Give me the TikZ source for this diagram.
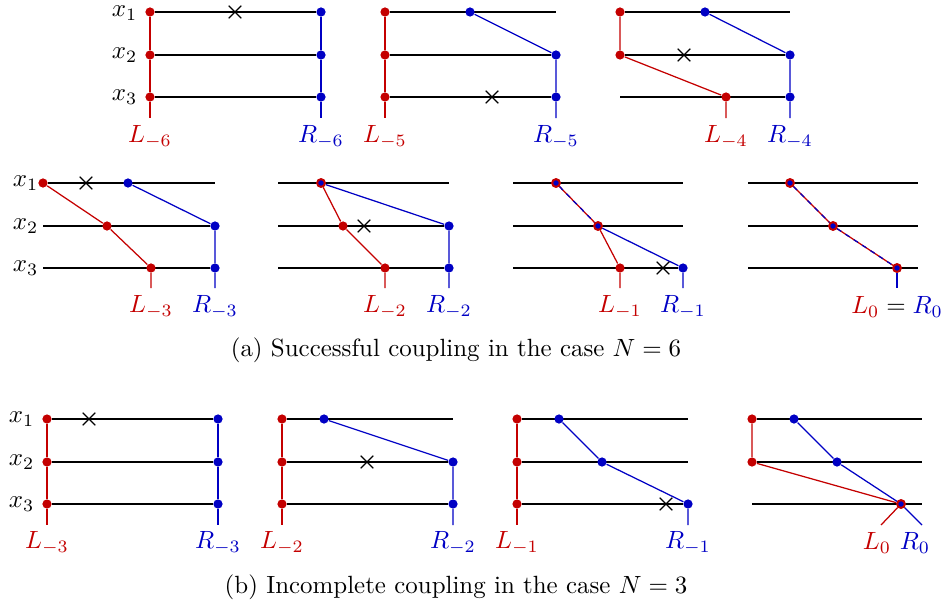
\documentclass[tikz,border=0pt]{standalone}
\usepackage{amsmath,amssymb}
\usepackage{xcolor}
\usepackage{tikz}
\usetikzlibrary{shapes.misc,backgrounds}
\definecolor{lred}{RGB}{196,0,0}
\definecolor{lblue}{RGB}{0,0,196}
\tikzset{
  lvl/.style={line width=0.5pt},
  dr/.style={circle,fill=lred,inner sep=0pt,minimum size=1.3mm},
  db/.style={circle,fill=lblue,inner sep=0pt,minimum size=1.3mm},
  dm/.style={circle,draw=lred,fill=lblue,line width=0.8pt,inner sep=0pt,minimum size=1.1mm},
  kill/.style={cross out,draw,line width=0.5pt,minimum size=1.6mm,inner sep=0pt},
  xl/.style={anchor=east,inner sep=0.5pt},
  pl/.style={lred,line width=0.5pt},
  pr/.style={lblue,line width=0.5pt},
  pm/.style={lblue,line width=0.5pt,dash pattern=on 2pt off 2pt},
  tl/.style={text=lred}, tr/.style={text=lblue},
}
\begin{document}
\begin{tikzpicture}[x=0.0141cm,y=-0.0141cm]
  \useasboundingbox (0,0) rectangle (942,605);

  \node[xl] (A-x1) at (139,13){$x_1$};
  \node[xl] (A-x2) at (139,55){$x_2$};
  \node[xl] (A-x3) at (139,97){$x_3$};
  \node[dr] (A-l1) at (150,12){};
  \node[dr] (A-l2) at (150,55){};
  \node[dr] (A-l3) at (150,97){};
  \node[db] (A-r1) at (321,12){};
  \node[db] (A-r2) at (321,55){};
  \node[db] (A-r3) at (321,97){};
  \coordinate (A-ls) at (150,118);
  \coordinate (A-rs) at (321,118);
  \node[kill] (A-k) at (235,12){};
  \node[tl] (A-lt) at (150,137){$L_{-6}$};
  \node[tr] (A-rt) at (321,137){$R_{-6}$};

  \node[dr] (B-l1) at (385,12){};
  \node[dr] (B-l2) at (385,55){};
  \node[dr] (B-l3) at (385,97){};
  \node[db] (B-b1) at (470,12){};
  \coordinate (B-e1) at (556,12);
  \node[db] (B-r2) at (556,55){};
  \node[db] (B-r3) at (556,97){};
  \coordinate (B-ls) at (385,118);
  \coordinate (B-rs) at (556,118);
  \node[kill] (B-k) at (492,97){};
  \node[tl] (B-lt) at (385,137){$L_{-5}$};
  \node[tr] (B-rt) at (556,137){$R_{-5}$};

  \node[dr] (C-l1) at (620,12){};
  \node[dr] (C-l2) at (620,55){};
  \coordinate (C-s3) at (620,97);
  \node[dr] (C-l3) at (726,97){};
  \node[db] (C-b1) at (705,12){};
  \coordinate (C-e1) at (790,12);
  \node[db] (C-r2) at (790,55){};
  \node[db] (C-r3) at (790,97){};
  \coordinate (C-ls) at (726,118);
  \coordinate (C-rs) at (790,118);
  \node[kill] (C-k) at (684,55){};
  \node[tl] (C-lt) at (726,137){$L_{-4}$};
  \node[tr] (C-rt) at (790,137){$R_{-4}$};

  \node[xl] (D-x1) at (40,183){$x_1$};
  \node[xl] (D-x2) at (40,226){$x_2$};
  \node[xl] (D-x3) at (40,268){$x_3$};
  \node[dr] (D-l1) at (43,183){};
  \node[db] (D-b1) at (128,183){};
  \coordinate (D-e1) at (215,183);
  \coordinate (D-s2) at (43,226);
  \node[dr] (D-l2) at (107,226){};
  \node[db] (D-r2) at (215,226){};
  \coordinate (D-s3) at (43,268);
  \node[dr] (D-l3) at (151,268){};
  \node[db] (D-r3) at (215,268){};
  \coordinate (D-ls) at (151,288);
  \coordinate (D-rs) at (215,288);
  \node[kill] (D-k) at (86,183){};
  \node[tl] (D-lt) at (151,307){$L_{-3}$};
  \node[tr] (D-rt) at (215,307){$R_{-3}$};

  \coordinate (E-s1) at (278,183);
  \node[dm] (E-m1) at (321,183){};
  \coordinate (E-e1) at (449,183);
  \coordinate (E-s2) at (278,226);
  \node[dr] (E-l2) at (343,226){};
  \node[db] (E-r2) at (449,226){};
  \coordinate (E-s3) at (278,268);
  \node[dr] (E-l3) at (385,268){};
  \node[db] (E-r3) at (449,268){};
  \coordinate (E-ls) at (385,288);
  \coordinate (E-rs) at (449,288);
  \node[kill] (E-k) at (364,226){};
  \node[tl] (E-lt) at (385,307){$L_{-2}$};
  \node[tr] (E-rt) at (449,307){$R_{-2}$};

  \coordinate (F-s1) at (513,183);
  \node[dm] (F-m1) at (556,183){};
  \coordinate (F-e1) at (683,183);
  \coordinate (F-s2) at (513,226);
  \node[dm] (F-m2) at (598,226){};
  \coordinate (F-e2) at (683,226);
  \coordinate (F-s3) at (513,268);
  \node[dr] (F-l3) at (620,268){};
  \node[db] (F-r3) at (683,268){};
  \coordinate (F-ls) at (620,288);
  \coordinate (F-rs) at (683,288);
  \node[kill] (F-k) at (663,268){};
  \node[tl] (F-lt) at (620,307){$L_{-1}$};
  \node[tr] (F-rt) at (683,307){$R_{-1}$};

  \coordinate (G-s1) at (748,183);
  \node[dm] (G-m1) at (790,183){};
  \coordinate (G-e1) at (918,183);
  \coordinate (G-s2) at (748,226);
  \node[dm] (G-m2) at (833,226){};
  \coordinate (G-e2) at (918,226);
  \coordinate (G-s3) at (748,268);
  \node[dm] (G-m3) at (897,268){};
  \coordinate (G-e3) at (918,268);
  \coordinate (G-st) at (897,288);
  \node (G-t) at (897,307){${\color{lred}L_0}={\color{lblue}R_0}$};

  \node (capa) at (456,350){(a) Successful coupling in the case $N=6$};

  \node[xl] (H-x1) at (36,419){$x_1$};
  \node[xl] (H-x2) at (36,462){$x_2$};
  \node[xl] (H-x3) at (36,504){$x_3$};
  \node[dr] (H-l1) at (47,419){};
  \node[dr] (H-l2) at (47,462){};
  \node[dr] (H-l3) at (47,504){};
  \node[db] (H-r1) at (218,419){};
  \node[db] (H-r2) at (218,462){};
  \node[db] (H-r3) at (218,504){};
  \coordinate (H-ls) at (47,525);
  \coordinate (H-rs) at (218,525);
  \node[kill] (H-k) at (89,419){};
  \node[tl] (H-lt) at (47,543){$L_{-3}$};
  \node[tr] (H-rt) at (218,543){$R_{-3}$};

  \node[dr] (I-l1) at (282,419){};
  \node[dr] (I-l2) at (282,462){};
  \node[dr] (I-l3) at (282,504){};
  \node[db] (I-b1) at (324,419){};
  \coordinate (I-e1) at (453,419);
  \node[db] (I-r2) at (453,462){};
  \node[db] (I-r3) at (453,504){};
  \coordinate (I-ls) at (282,525);
  \coordinate (I-rs) at (453,525);
  \node[kill] (I-k) at (367,462){};
  \node[tl] (I-lt) at (282,543){$L_{-2}$};
  \node[tr] (I-rt) at (453,543){$R_{-2}$};

  \node[dr] (J-l1) at (517,419){};
  \node[dr] (J-l2) at (517,462){};
  \node[dr] (J-l3) at (517,504){};
  \node[db] (J-b1) at (559,419){};
  \coordinate (J-e1) at (688,419);
  \node[db] (J-b2) at (602,462){};
  \coordinate (J-e2) at (688,462);
  \node[db] (J-r3) at (688,504){};
  \coordinate (J-ls) at (517,525);
  \coordinate (J-rs) at (688,525);
  \node[kill] (J-k) at (666,504){};
  \node[tl] (J-lt) at (517,543){$L_{-1}$};
  \node[tr] (J-rt) at (688,543){$R_{-1}$};

  \node[dr] (K-l1) at (752,419){};
  \node[dr] (K-l2) at (752,462){};
  \coordinate (K-s3) at (752,504);
  \node[db] (K-b1) at (794,419){};
  \node[db] (K-b2) at (837,462){};
  \node[dm] (K-m3) at (901,504){};
  \coordinate (K-e1) at (922,419);
  \coordinate (K-e2) at (922,462);
  \coordinate (K-e3) at (922,504);
  \coordinate (K-ls) at (881,525);
  \coordinate (K-rs) at (922,525);
  \node[tl] (K-lt) at (877,543){$L_0$};
  \node[tr] (K-rt) at (915,543){$R_0$};

  \node (capb) at (456,587){(b) Incomplete coupling in the case $N=3$};

  \begin{scope}[on background layer]
    \draw[lvl] (A-l1)--(A-r1) (A-l2)--(A-r2) (A-l3)--(A-r3);
    \draw[pl] (A-l1)--(A-l2)--(A-l3)--(A-ls);
    \draw[pr] (A-r1)--(A-r2)--(A-r3)--(A-rs);

    \draw[lvl] (B-l1)--(B-e1) (B-l2)--(B-r2) (B-l3)--(B-r3);
    \draw[pl] (B-l1)--(B-l2)--(B-l3)--(B-ls);
    \draw[pr] (B-b1)--(B-r2)--(B-r3)--(B-rs);

    \draw[lvl] (C-l1)--(C-e1) (C-l2)--(C-r2) (C-s3)--(C-r3);
    \draw[pl] (C-l1)--(C-l2)--(C-l3)--(C-ls);
    \draw[pr] (C-b1)--(C-r2)--(C-r3)--(C-rs);

    \draw[lvl] (D-l1)--(D-e1) (D-s2)--(D-r2) (D-s3)--(D-r3);
    \draw[pl] (D-l1)--(D-l2)--(D-l3)--(D-ls);
    \draw[pr] (D-b1)--(D-r2)--(D-r3)--(D-rs);

    \draw[lvl] (E-s1)--(E-e1) (E-s2)--(E-r2) (E-s3)--(E-r3);
    \draw[pl] (E-m1)--(E-l2)--(E-l3)--(E-ls);
    \draw[pr] (E-m1)--(E-r2)--(E-r3)--(E-rs);

    \draw[lvl] (F-s1)--(F-e1) (F-s2)--(F-e2) (F-s3)--(F-r3);
    \draw[pl] (F-m1)--(F-m2)--(F-l3)--(F-ls);
    \draw[pm] (F-m1)--(F-m2);
    \draw[pr] (F-m2)--(F-r3)--(F-rs);

    \draw[lvl] (G-s1)--(G-e1) (G-s2)--(G-e2) (G-s3)--(G-e3);
    \draw[pl] (G-m1)--(G-m2)--(G-m3);
    \draw[pm] (G-m1)--(G-m2)--(G-m3);
    \draw[pr] (G-m3)--(G-st);

    \draw[lvl] (H-l1)--(H-r1) (H-l2)--(H-r2) (H-l3)--(H-r3);
    \draw[pl] (H-l1)--(H-l2)--(H-l3)--(H-ls);
    \draw[pr] (H-r1)--(H-r2)--(H-r3)--(H-rs);

    \draw[lvl] (I-l1)--(I-e1) (I-l2)--(I-r2) (I-l3)--(I-r3);
    \draw[pl] (I-l1)--(I-l2)--(I-l3)--(I-ls);
    \draw[pr] (I-b1)--(I-r2)--(I-r3)--(I-rs);

    \draw[lvl] (J-l1)--(J-e1) (J-l2)--(J-e2) (J-l3)--(J-r3);
    \draw[pl] (J-l1)--(J-l2)--(J-l3)--(J-ls);
    \draw[pr] (J-b1)--(J-b2)--(J-r3)--(J-rs);

    \draw[lvl] (K-l1)--(K-e1) (K-l2)--(K-e2) (K-s3)--(K-e3);
    \draw[pl] (K-l1)--(K-l2)--(K-m3)--(K-ls);
    \draw[pr] (K-b1)--(K-b2)--(K-m3)--(K-rs);
  \end{scope}
\end{tikzpicture}
\end{document}
